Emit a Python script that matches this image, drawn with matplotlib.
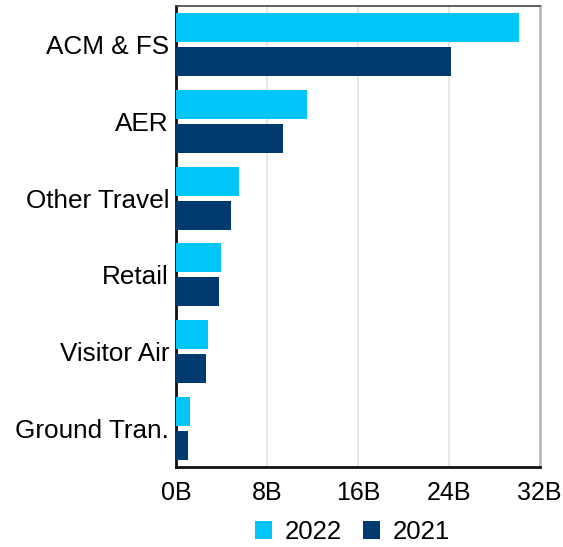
import matplotlib.pyplot as plt
import numpy as np

plt.rcParams['font.family'] = ['Liberation Sans', 'DejaVu Sans']

# --- data (billions) ---
categories = ['ACM & FS', 'AER', 'Other Travel', 'Retail', 'Visitor Air', 'Ground Tran.']
values_2022 = [30.2, 11.5, 5.5, 4.0, 2.8, 1.2]
values_2021 = [24.2, 9.4, 4.8, 3.8, 2.6, 1.05]
xticks = [0, 8, 16, 24, 32]
xtick_labels = ['0B', '8B', '16B', '24B', '32B']

c_2022 = '#00c6fa'
c_2021 = '#003a70'

fig = plt.figure(figsize=(5.63, 5.47), dpi=100)
ax = fig.add_axes([0.3126, 0.1463, 0.646, 0.8427])

y = np.arange(len(categories))
h = 0.378
off = 0.222
ax.barh(y - off, values_2022, height=h, color=c_2022, label='2022', zorder=3)
ax.barh(y + off, values_2021, height=h, color=c_2021, label='2021', zorder=3)

ax.set_ylim(len(categories) - 0.5, -0.5)
ax.set_xlim(0, 32)
ax.set_yticks(y)
ax.set_yticklabels(categories, fontsize=18.8)
ax.set_xticks(xticks)
ax.set_xticklabels(xtick_labels, fontsize=18)
ax.tick_params(axis='both', length=0, width=0)
ax.tick_params(axis='y', pad=5)
ax.tick_params(axis='x', pad=10)

# grid and frame
ax.grid(axis='x', color='#e6e6e6', linewidth=1.5, zorder=0)
ax.spines['left'].set_color('#111111')
ax.spines['left'].set_linewidth(2)
ax.spines['bottom'].set_color('#111111')
ax.spines['bottom'].set_linewidth(2)
ax.spines['top'].set_color('#444444')
ax.spines['top'].set_linewidth(1.2)
ax.spines['right'].set_color('#bbbbbb')
ax.spines['right'].set_linewidth(2)

ax.legend(loc='center', bbox_to_anchor=(0.626, 0.027), bbox_transform=fig.transFigure,
          ncol=2, frameon=False, fontsize=18.5, handlelength=0.68, handleheight=0.68,
          handletextpad=0.5, columnspacing=0.8, borderaxespad=0, borderpad=0)

fig.savefig('out.png', dpi=100)
